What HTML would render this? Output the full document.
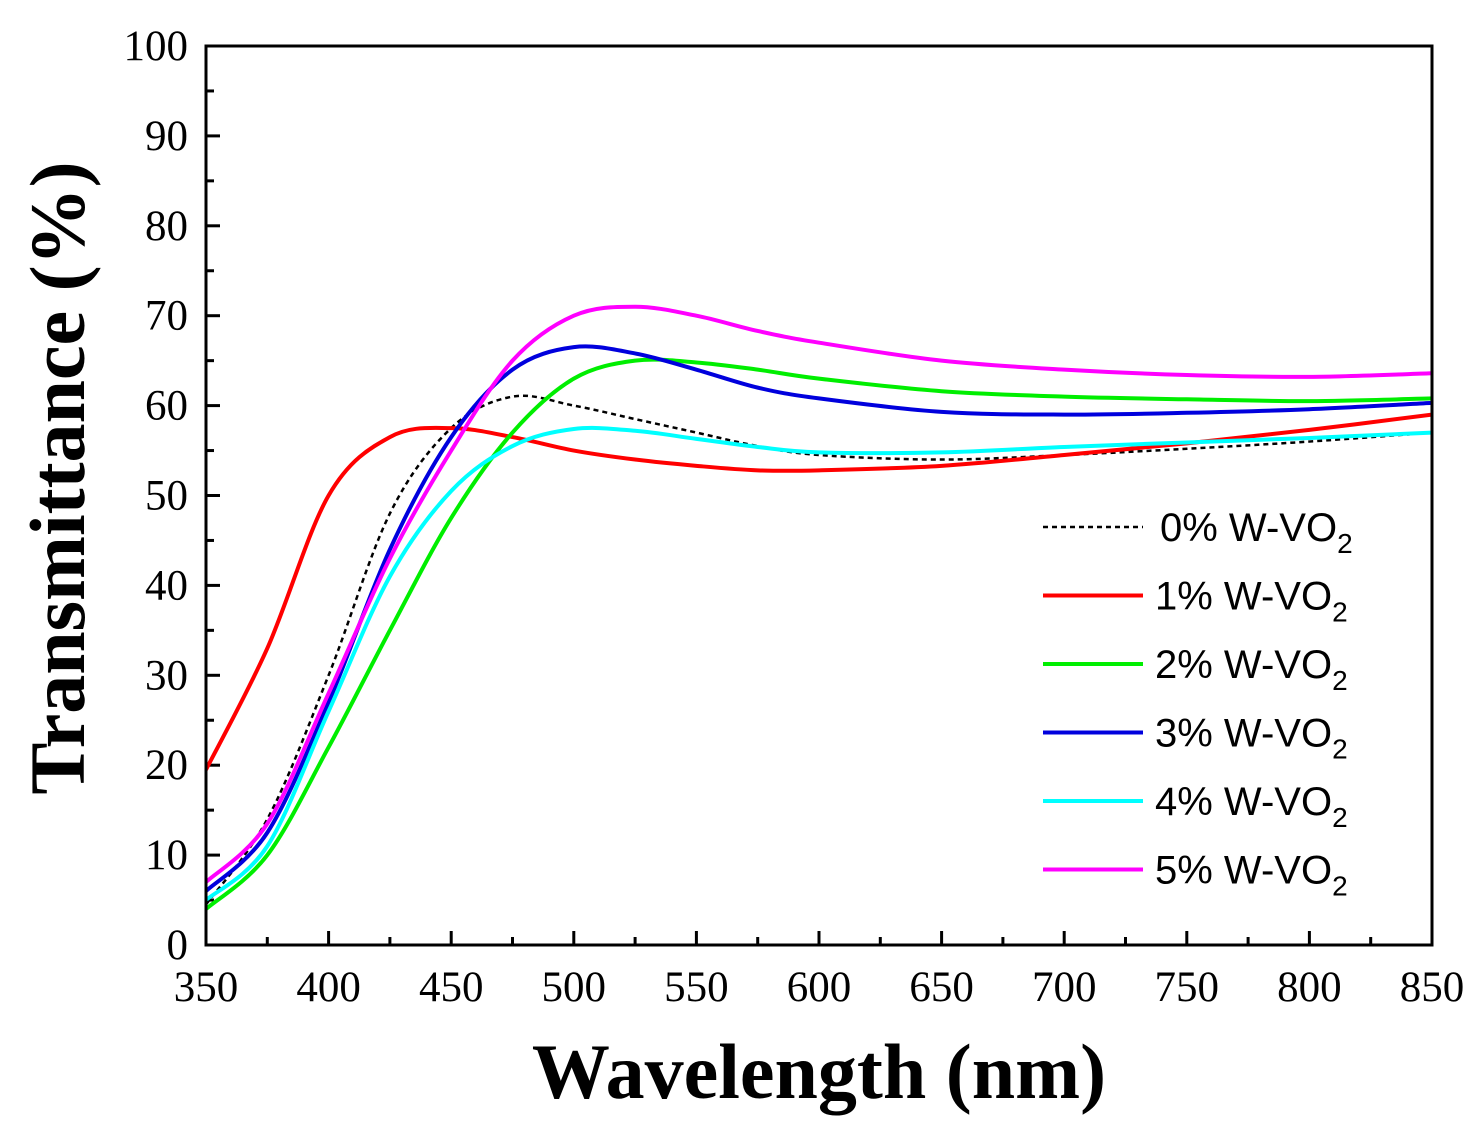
<!DOCTYPE html>
<html><head><meta charset="utf-8"><style>
body{margin:0;background:#fff}
svg text{font-family:"Liberation Serif",serif}
svg #legend text{font-family:"Liberation Sans",sans-serif}
</style></head><body>
<svg id="chart" width="1483" height="1138" xmlns="http://www.w3.org/2000/svg">
<g id="ticks"></g>
<g id="series" clip-path="url(#clip)"></g>
<defs><clipPath id="clip"><rect x="206" y="46" width="1226" height="899"/></clipPath></defs>
<rect x="206" y="46" width="1226" height="899" fill="none" stroke="#000" stroke-width="3"/>
<text x="819" y="1098" text-anchor="middle" font-size="78" font-weight="bold">Wavelength (nm)</text>
<text transform="translate(84,478) rotate(-90)" text-anchor="middle" font-size="78" font-weight="bold">Transmittance (%)</text>
<g id="legend"></g>
</svg>
<script>
const wl=[350,375,400,425,450,475,500,525,550,575,600,650,700,750,800,850];
const s0=[4.5,14,30,48,57.5,61,60,58.5,57,55.5,54.5,54,54.5,55.2,56,57];
const s1=[19.5,33,50,56.5,57.5,56.5,55,54,53.3,52.8,52.8,53.3,54.5,55.8,57.3,59];
const s2=[4,10,22,35,47.5,57,63,65,64.8,64,63,61.6,61,60.7,60.5,60.8];
const s3=[6,12.5,27,44,56.5,64,66.5,65.8,64,62,60.8,59.3,59,59.2,59.6,60.3];
const s4=[5,11,26,41,50.5,55.5,57.4,57.2,56.3,55.4,54.8,54.8,55.4,55.9,56.4,57];
const s5=[7,13.5,28,43,55,65,70,71,70,68.3,67,65,64,63.4,63.2,63.6];
const names=["0% W-VO","1% W-VO","2% W-VO","3% W-VO","4% W-VO","5% W-VO"];
const colors=["#000","#ff0000","#00ee00","#0000dd","#00ffff","#ff00ff"];
const xTicks=[350,400,450,500,550,600,650,700,750,800,850];
const yTicks=[0,10,20,30,40,50,60,70,80,90,100];
const X=v=>206+(v-350)*1226/500, Y=v=>945-v*8.99;
const NS="http://www.w3.org/2000/svg";
function mk(t,a,p){const e=document.createElementNS(NS,t);for(const k in a)e.setAttribute(k,a[k]);p.appendChild(e);return e;}
const tg=document.getElementById('ticks');
for(let v=350;v<=850;v+=25){const maj=v%50==0;
 const l=mk('line',{x1:X(v),x2:X(v),y1:945,y2:945-(maj?14:8),stroke:'#000','stroke-width':3},tg);
 
 }
xTicks.forEach(v=>{const t=mk('text',{x:X(v),y:1001,'text-anchor':'middle','font-size':43},tg);t.textContent=v;
 
 });
for(let v=0;v<=100;v+=5){const maj=v%10==0;
 const l=mk('line',{x1:206,x2:206+(maj?14:8),y1:Y(v),y2:Y(v),stroke:'#000','stroke-width':3},tg);
 
 }
yTicks.forEach(v=>{const t=mk('text',{x:188,y:Y(v)+14,'text-anchor':'end','font-size':43},tg);t.textContent=v;
 
 });
function path(ys){const p=wl.map((w,i)=>[X(w),Y(ys[i])]);let d='M'+p[0];
 for(let i=0;i<p.length-1;i++){const a=p[i-1]||p[i],b=p[i],c=p[i+1],e=p[i+2]||c;
  d+=` C${b[0]+(c[0]-a[0])/6},${b[1]+(c[1]-a[1])/6} ${c[0]-(e[0]-b[0])/6},${c[1]-(e[1]-b[1])/6} ${c[0]},${c[1]}`;}
 return d;}
const sg=document.getElementById('series'),lg=document.getElementById('legend');
[s0,s1,s2,s3,s4,s5].forEach((s,i)=>{
 const p=mk('path',{d:path(s),fill:'none',stroke:colors[i],'stroke-width':i?4:2.5},sg);
 if(!i)p.setAttribute('stroke-dasharray','5,4');
 
 
 const y=527+i*68.5;
 const l=mk('line',{x1:1043,x2:1143,y1:y,y2:y,stroke:colors[i],'stroke-width':i?4:2.5},lg);
 if(!i)l.setAttribute('stroke-dasharray','5,4');
 
 
 const t=mk('text',{x:i?1155:1160,y:y+14,'font-size':40},lg);
 t.innerHTML=names[i]+'<tspan font-size="28" dy="12">2</tspan>';
 
 
});
</script>
</body></html>
